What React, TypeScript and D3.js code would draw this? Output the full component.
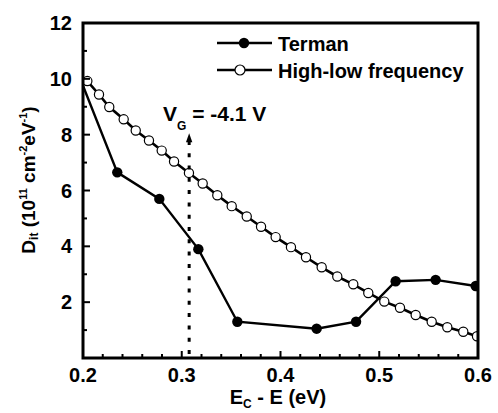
import React from "react";
import * as d3 from "d3";

const termanX = [0.2, 0.2347, 0.2773, 0.3168, 0.3563, 0.4366, 0.4765, 0.5166, 0.5571, 0.5977];
const termanY = [9.75, 6.65, 5.7, 3.9, 1.3, 1.05, 1.3, 2.75, 2.8, 2.58];

const hlX = [0.2044, 0.2162, 0.2266, 0.2412, 0.2534, 0.2668, 0.2797, 0.2922, 0.3073, 0.3212, 0.336, 0.3506, 0.3658, 0.3803, 0.3951, 0.4106, 0.4258, 0.4417, 0.4575, 0.4737, 0.4889, 0.5051, 0.521, 0.5369, 0.5531, 0.5689, 0.5851, 0.599];
const hlY = [9.92, 9.44, 8.99, 8.55, 8.15, 7.79, 7.43, 7.04, 6.63, 6.25, 5.83, 5.44, 5.07, 4.7, 4.33, 3.97, 3.61, 3.25, 2.92, 2.64, 2.33, 2.02, 1.8, 1.54, 1.3, 1.1, 0.94, 0.78];

const xMajor = [0.2, 0.3, 0.4, 0.5, 0.6];
const yMajor = [2, 4, 6, 8, 10, 12];
const vgX = 0.3075;
const vgTopY = 8.05;

const FONT = "'Liberation Sans', Arial, Helvetica, sans-serif";

export default function App() {
  const W = 498, H = 413;
  const L = 83, R = 478, T = 23, B = 358;
  const x = d3.scaleLinear().domain([0.2, 0.6]).range([L, R]);
  const y = d3.scaleLinear().domain([0, 12]).range([B, T]);

  const xMinor = d3.range(0.2, 0.6001, 0.02);
  const yMinor = d3.range(1, 12, 2);

  const terman = termanX.map((v, i) => [v, termanY[i]] as [number, number]);
  const hl = hlX.map((v, i) => [v, hlY[i]] as [number, number]);
  const line = d3.line<[number, number]>().x(d => x(d[0])).y(d => y(d[1]));

  const vx = x(vgX);
  const arrowTop = y(vgTopY);

  return (
    <svg width={W} height={H} style={{ position: "absolute", left: 0, top: 0, background: "#fff" }} fontFamily={FONT} fontWeight="bold">
      <defs>
        <clipPath id="plotclip">
          <rect x={L} y={T} width={R - L} height={B - T} />
        </clipPath>
      </defs>

      {/* series */}
      <g clipPath="url(#plotclip)">
        <path d={line(hl) || ""} fill="none" stroke="#000" strokeWidth={2.6} />
        <path d={line(terman) || ""} fill="none" stroke="#000" strokeWidth={2.4} />
        {hl.map((d, i) => (
          <circle key={"h" + i} cx={x(d[0])} cy={y(d[1])} r={4.6} fill="#fff" stroke="#000" strokeWidth={1.2} />
        ))}
        {terman.filter(d => d[0] > 0.2).map((d, i) => (
          <circle key={"t" + i} cx={x(d[0])} cy={y(d[1])} r={5.2} fill="#000" />
        ))}
      </g>

      {/* dotted arrow */}
      <line x1={vx} x2={vx} y1={B - 4} y2={arrowTop + 6} stroke="#000" strokeWidth={3} strokeDasharray="4 8.3" />
      <path d={`M${vx},${arrowTop} L${vx - 3.2},${arrowTop + 9} L${vx + 3.2},${arrowTop + 9} Z`} fill="#000" />
      <text x={163} y={121} fontSize={21} fill="#000">
        V<tspan fontSize={12} dy={9}>G</tspan><tspan dy={-9}> = -4.1 V</tspan>
      </text>

      {/* frame */}
      <rect x={L} y={T} width={R - L} height={B - T} fill="none" stroke="#000" strokeWidth={3} />

      {/* ticks */}
      {xMinor.map((v, i) => {
        const major = xMajor.some(m => Math.abs(m - v) < 1e-6);
        return <line key={"xm" + i} x1={x(v)} x2={x(v)} y1={B} y2={B - (major ? 7 : 4)} stroke="#000" strokeWidth={2} />;
      })}
      {yMajor.map((v, i) => (
        <line key={"yM" + i} x1={L} x2={L + 7} y1={y(v)} y2={y(v)} stroke="#000" strokeWidth={2} />
      ))}
      {yMinor.map((v, i) => (
        <line key={"ym" + i} x1={L} x2={L + 4} y1={y(v)} y2={y(v)} stroke="#000" strokeWidth={2} />
      ))}

      {/* tick labels */}
      {xMajor.map((v, i) => (
        <text key={"xl" + i} x={x(v)} y={382} textAnchor="middle" fontSize={20} fill="#000">{v.toFixed(1)}</text>
      ))}
      {yMajor.map((v, i) => (
        <text key={"yl" + i} x={72} y={y(v) + 7} textAnchor="end" fontSize={20} fill="#000">{v}</text>
      ))}

      {/* axis titles */}
      <text x={278} y={404} textAnchor="middle" fontSize={20} fill="#000">
        E<tspan fontSize={12} dy={4}>C</tspan><tspan dy={-4}> - E (eV)</tspan>
      </text>
      <text transform="translate(35,180) rotate(-90)" textAnchor="middle" fontSize={19} fill="#000">
        D<tspan fontSize={12} dy={3}>it</tspan><tspan dy={-3}> (10</tspan><tspan fontSize={11} dy={-8}>11</tspan><tspan dy={8}> cm</tspan><tspan fontSize={11} dy={-8}>-2</tspan><tspan dy={8}>eV</tspan><tspan fontSize={11} dy={-8}>-1</tspan><tspan dy={8}>)</tspan>
      </text>

      {/* legend */}
      <line x1={217} x2={272} y1={43} y2={43} stroke="#000" strokeWidth={2.4} />
      <circle cx={244} cy={43} r={5.2} fill="#000" />
      <text x={278} y={51} fontSize={20} fill="#000">Terman</text>
      <line x1={217} x2={272} y1={70} y2={70} stroke="#000" strokeWidth={2.4} />
      <circle cx={240} cy={70} r={5} fill="#fff" stroke="#000" strokeWidth={1.2} />
      <text x={278} y={78} fontSize={20} fill="#000">High-low frequency</text>
    </svg>
  );
}
